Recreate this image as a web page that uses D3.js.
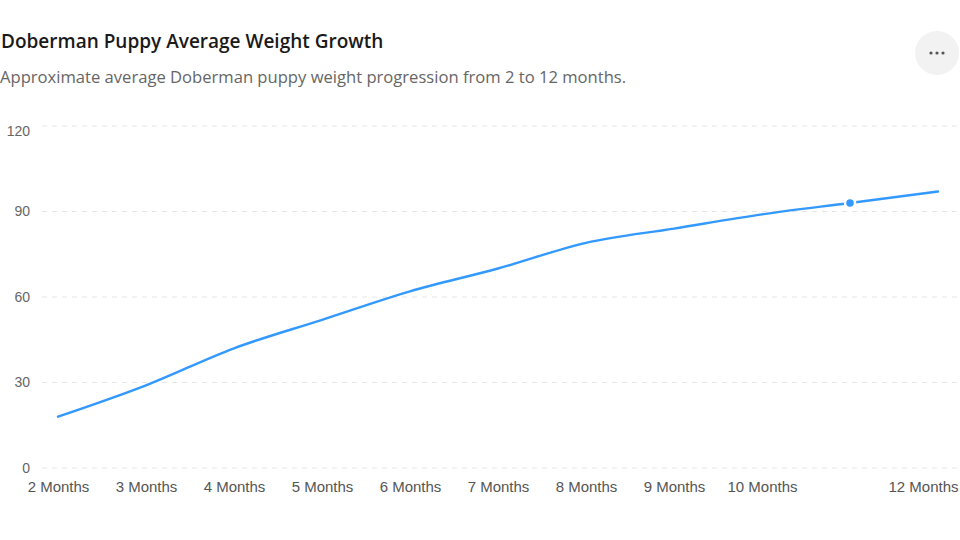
<!DOCTYPE html>
<html>
<head>
<meta charset="utf-8">
<script src="https://cdn.jsdelivr.net/npm/d3@7"></script>
<style>
  html, body { margin: 0; padding: 0; background: #fff; }
  svg { display: block; font-family: "Segoe UI", "Open Sans", "Noto Sans", sans-serif; }
</style>
</head>
<body>
<svg id="chart" width="960" height="540"></svg>
<script>
const categories = ["2 Months","3 Months","4 Months","5 Months","6 Months","7 Months","8 Months","9 Months","10 Months","11 Months","12 Months"];
const weights = [18, 29, 42, 52, 62, 70, 79, 84, 89, 93, 97];
const yTicks = [0, 30, 60, 90, 120];
const highlightIndex = 9;
const titleText = "Doberman Puppy Average Weight Growth";
const subtitleText = "Approximate average Doberman puppy weight progression from 2 to 12 months.";

const W = 960, H = 540;
const svg = d3.select("#chart");

svg.append("text").attr("x", 1).attr("y", 48)
  .attr("font-size", 19).attr("font-weight", 600).attr("fill", "#1a1a1a")
  .text(titleText);
svg.append("text").attr("x", 0).attr("y", 83)
  .attr("font-size", 16.6).attr("fill", "#666")
  .text(subtitleText);

// menu button
const btn = svg.append("g").attr("transform", "translate(937,53)");
btn.append("circle").attr("r", 22).attr("fill", "#f2f2f2");
[-6, 0, 6].forEach(dx => btn.append("circle").attr("cx", dx).attr("cy", 0).attr("r", 1.6).attr("fill", "#555"));

const x = d3.scalePoint().domain(categories).range([58, 938]);
const y = d3.scaleLinear().domain([0, 120]).range([468, 126]);

// grid + y labels
const yAxis = d3.axisLeft(y).tickValues(yTicks).tickSize(0).tickPadding(0);
const gy = svg.append("g").attr("transform", "translate(30,0)").call(yAxis);
gy.select(".domain").remove();
gy.selectAll("text").attr("font-size", 14).attr("fill", "#666").attr("font-family", null)
  .attr("y", d => Math.max(0, 131 - y(d)));

svg.append("g").selectAll("line").data(yTicks).join("line")
  .attr("x1", 42).attr("x2", 958)
  .attr("y1", d => y(d)).attr("y2", d => y(d))
  .attr("stroke", "#e6e6e6").attr("stroke-width", 1).attr("stroke-dasharray", "5,5");

// x labels
const xAxis = d3.axisBottom(x).tickSize(0).tickPadding(0);
const gx = svg.append("g").attr("transform", "translate(0,481)").call(xAxis);
gx.select(".domain").remove();
gx.selectAll("text").attr("font-size", 15).attr("fill", "#555").attr("font-family", null).attr("dy", "0.71em");
// clamp into view and hide overlapping labels
const boxes = [];
gx.selectAll(".tick").each(function(d) {
  const t = d3.select(this).select("text");
  const w = this.querySelector("text").getComputedTextLength();
  const cx = x(d);
  let shift = 0;
  if (cx + w / 2 > W - 2) shift = (W - 2) - (cx + w / 2);
  t.attr("x", shift);
  boxes.push({node: t, l: cx + shift - w / 2, r: cx + shift + w / 2});
});
for (let i = boxes.length - 2; i >= 0; i--) {
  const next = boxes.slice(i + 1).find(b => !b.hidden);
  if (next && boxes[i].r + 6 > next.l) { boxes[i].hidden = true; boxes[i].node.attr("display", "none"); }
}

// line
const line = d3.line().x((d, i) => x(categories[i])).y(d => y(d)).curve(d3.curveMonotoneX);
svg.append("path").datum(weights).attr("d", line)
  .attr("fill", "none").attr("stroke", "#3399ff").attr("stroke-width", 2.4)
  .attr("stroke-linecap", "round");

svg.append("circle")
  .attr("cx", x(categories[highlightIndex])).attr("cy", y(weights[highlightIndex]))
  .attr("r", 5).attr("fill", "#3399ff").attr("stroke", "#fff").attr("stroke-width", 2.5);
</script>
</body>
</html>
